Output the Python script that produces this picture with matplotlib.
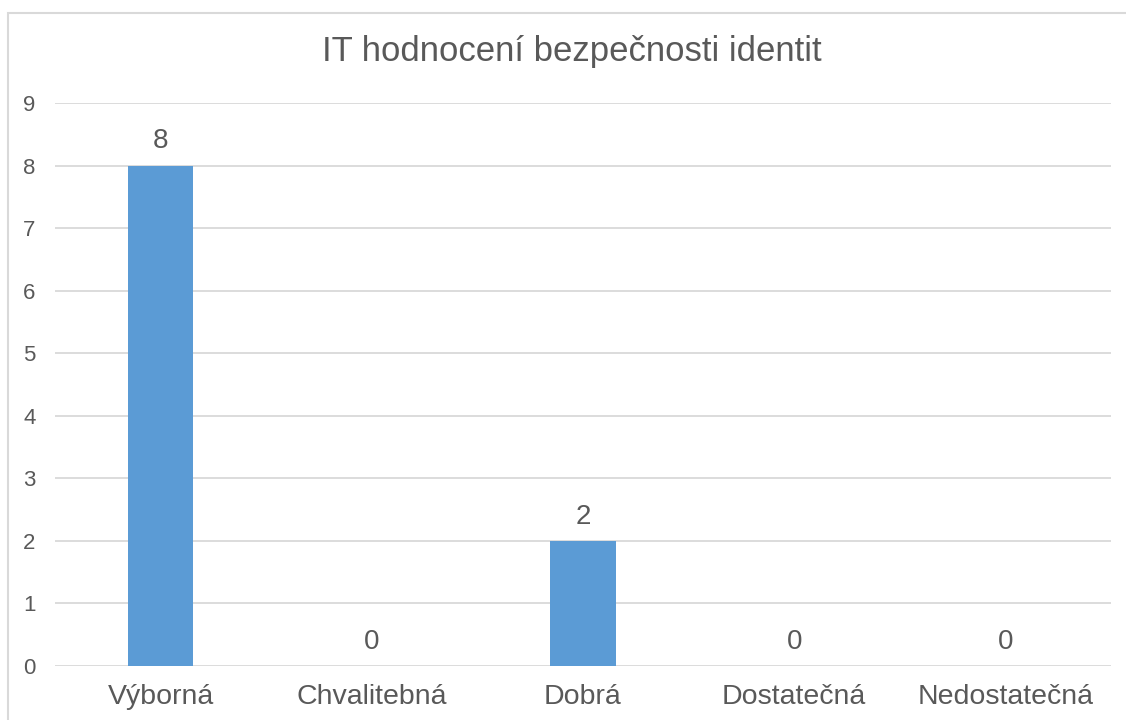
import matplotlib.pyplot as plt
from matplotlib import patches

categories = ["Výborná", "Chvalitebná", "Dobrá", "Dostatečná", "Nedostatečná"]
values = [8, 0, 2, 0, 0]
y_ticks = list(range(0, 10))

TEXT = "#595959"
GRID = "#d9d9d9"
BAR = "#5b9bd5"

plt.rcParams["font.family"] = ["Liberation Sans", "DejaVu Sans"]

fig = plt.figure(figsize=(11.26, 7.2), dpi=100)
ax = fig.add_axes([55 / 1126, 1 - 666 / 720, (1111 - 55) / 1126, (666 - 103) / 720])

# light frame round the chart, only top and left edges visible in the crop
frame = patches.Rectangle(
    (8 / 1126, -0.1), 1.2, 1 - 13 / 720 + 0.1,
    transform=fig.transFigure, fill=False, edgecolor=GRID, linewidth=1.5,
)
fig.patches.append(frame)

x = range(len(categories))
bars = ax.bar(x, values, width=0.31, color=BAR, zorder=3)

for rect, v in zip(bars, values):
    ax.annotate(
        str(v),
        (rect.get_x() + rect.get_width() / 2, v),
        xytext=(0, 8),
        textcoords="offset points",
        ha="center",
        va="bottom",
        fontsize=20,
        color=TEXT,
    )

ax.set_xlim(-0.5, len(categories) - 0.5)
ax.set_ylim(0, 9)
ax.set_yticks(y_ticks)
ax.set_xticks(list(x))
ax.set_xticklabels(categories)
ax.tick_params(axis="x", length=0, pad=13, labelsize=20.5, labelcolor=TEXT)
ax.tick_params(axis="y", length=0, pad=14, labelsize=16, labelcolor=TEXT)
ax.grid(axis="y", color=GRID, linewidth=1.3, zorder=0)
for s in ax.spines.values():
    s.set_visible(False)

fig.text(572 / 1126, 1 - 52 / 720, "IT hodnocení bezpečnosti identit",
         ha="center", va="center", fontsize=25, color=TEXT)

fig.savefig("out.png", dpi=100)
